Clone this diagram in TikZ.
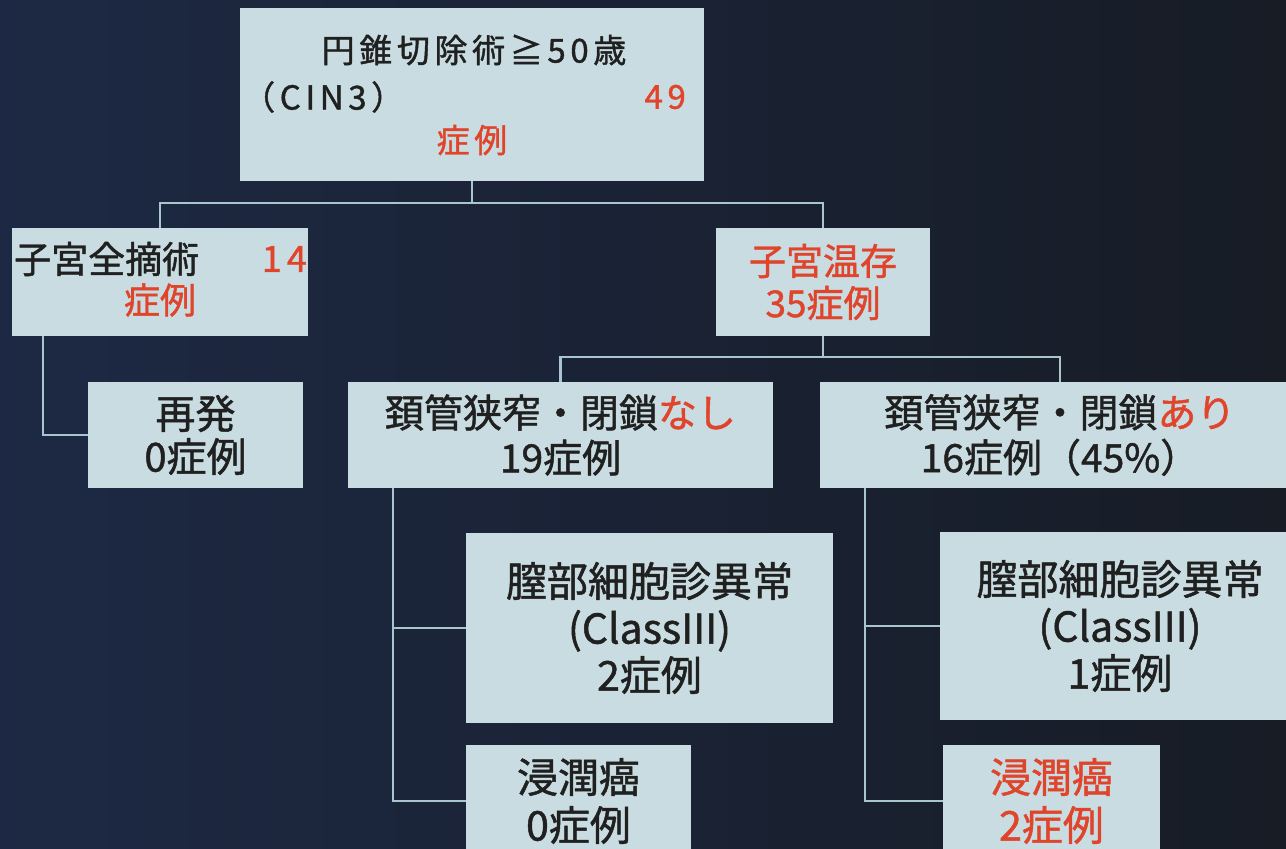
\documentclass[tikz,border=0pt]{standalone}
\usepackage{fontspec}
\newfontfamily\jp[FakeBold=1.2]{Noto Sans CJK JP}
\newfontfamily\jpwide[FakeBold=1.2,LetterSpace=14]{Noto Sans CJK JP}
\usetikzlibrary{calc}
\definecolor{bgL}{HTML}{1D2944}
\definecolor{bgR}{HTML}{171C25}
\definecolor{boxc}{HTML}{C8DCE1}
\definecolor{linec}{HTML}{A9C5CE}
\definecolor{txt}{HTML}{202020}
\definecolor{redt}{HTML}{E0452C}
\newcommand\jpsz[2]{\fontsize{#1}{#2}\selectfont}
\begin{document}
\begin{tikzpicture}[x=1pt,y=-1pt,
  box/.style={fill=boxc, draw=none, inner sep=0pt, text=txt, align=center},
  lbl/.style={inner sep=0pt, text=txt},
  conn/.style={draw=linec, line width=2.5pt}]
\useasboundingbox (0,0) rectangle (1286,849);
\clip (0,0) rectangle (1286,849);
\shade[left color=bgL, right color=bgR] (0,0) rectangle (1286,849);

% top box
\node[box, minimum width=464pt, minimum height=173pt] (top) at (472,94.5) {};
\node[lbl, font=\jpwide\jpsz{33}{40}] (t1) at (474,50) {円錐切除術≧50歳};
\node[lbl, anchor=west, font=\jpwide\jpsz{33}{40}] (t2) at (242,97) {（CIN3）};
\node[lbl, anchor=east, text=redt, font=\jpwide\jpsz{33}{40}] (t3) at (686,97) {49};
\node[lbl, text=redt, font=\jpwide\jpsz{33}{40}] (t4) at (472,140) {症例};

% second row
\node[box, minimum width=296pt, minimum height=108pt] (hyst) at (160,282) {};
\node[lbl, anchor=west, font=\jp\jpsz{37}{44}] (h1) at (14,259) {子宮全摘術};
\node[lbl, anchor=east, text=redt, font=\jpwide\jpsz{36}{44}] (h2) at (307,259) {14};
\node[lbl, text=redt, font=\jp\jpsz{36}{44}] (h3) at (160,300) {症例};

\node[box, text=redt, font=\jp\jpsz{37}{42}, minimum width=214pt, minimum height=108pt] (pres) at (823,282) {子宮温存\\35症例};

% third row
\node[box, font=\jp\jpsz{40}{43}, minimum width=215pt, minimum height=106pt] (rec) at (195.5,435) {再発\\0症例};
\node[box, font=\jp\jpsz{39}{45}, minimum width=425pt, minimum height=106pt] (nashi) at (560.5,435) {頚管狭窄・閉鎖\textcolor{redt}{なし}\\19症例};
\node[box, font=\jp\jpsz{39}{45}, minimum width=480pt, minimum height=106pt] (ari) at (1060,435) {頚管狭窄・閉鎖\textcolor{redt}{あり}\\16症例（45\%）};

% fourth row
\node[box, font=\jp\jpsz{41}{47}, minimum width=367pt, minimum height=190pt] (cyt1) at (649.5,628) {膣部細胞診異常\\(ClassIII)\\2症例};
\node[box, font=\jp\jpsz{41}{47}, minimum width=360pt, minimum height=188pt] (cyt2) at (1120,626) {膣部細胞診異常\\(ClassIII)\\1症例};

% bottom row
\node[box, font=\jp\jpsz{41}{48}, minimum width=225pt, minimum height=112pt] (inv1) at (578.5,801) {浸潤癌\\0症例};
\node[box, text=redt, font=\jp\jpsz{41}{48}, minimum width=217pt, minimum height=112pt] (inv2) at (1051.5,801) {浸潤癌\\2症例};

% connectors
\coordinate (j1) at (472,203);
\draw[conn] (top.south) -- (j1);
\draw[conn] (hyst.north) |- (j1) -| (pres.north);
\draw[conn] ($(hyst.south west)+(31,0)$) |- (rec.west);
\coordinate (j2) at (823,357);
\draw[conn] (pres.south) -- (j2);
\draw[conn] (nashi.north) |- (j2) -| (ari.north);
\draw[conn] ($(nashi.south west)+(45,0)$) |- (cyt1.west);
\draw[conn] ($(nashi.south west)+(45,0)$) |- (inv1.west);
\draw[conn] ($(ari.south west)+(45,0)$) |- (cyt2.west);
\draw[conn] ($(ari.south west)+(45,0)$) |- (inv2.west);
\end{tikzpicture}
\end{document}
